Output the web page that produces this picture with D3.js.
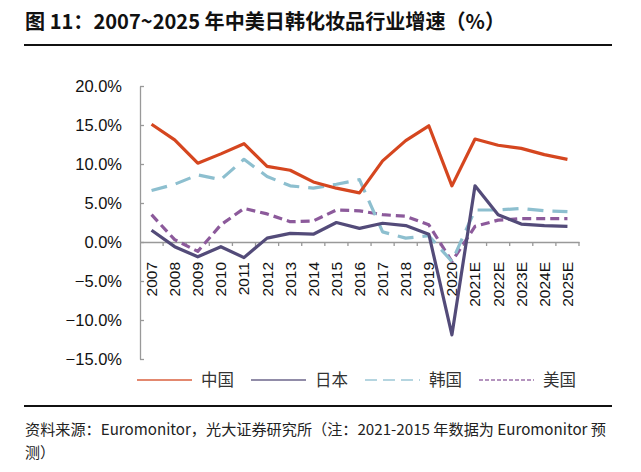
<!DOCTYPE html>
<html><head><meta charset="utf-8">
<script src="https://cdn.jsdelivr.net/npm/d3@7"></script>
<style>
body{margin:0;background:#fff;}
svg{display:block;}
</style></head>
<body>
<script>
const categories = ["2007","2008","2009","2010","2011","2012","2013","2014","2015","2016","2017","2018","2019","2020","2021E","2022E","2023E","2024E","2025E"];
const china = [15.1,13.1,10.1,11.3,12.6,9.7,9.2,7.7,6.9,6.3,10.4,13.0,14.9,7.2,13.2,12.4,12.0,11.2,10.6];
const japan = [1.5,-0.6,-1.9,-0.6,-2.0,0.5,1.1,1.0,2.5,1.75,2.4,2.1,1.0,-11.9,7.2,3.5,2.3,2.1,2.0];
const korea = [6.6,7.4,8.6,8.0,10.6,8.4,7.2,6.9,7.4,8.0,1.3,0.5,0.8,-2.5,4.1,4.1,4.3,4.0,3.9];
const usa = [3.5,0.3,-1.2,2.2,4.3,3.6,2.6,2.7,4.1,4.0,3.5,3.3,2.2,-2.5,2.0,2.8,3.0,3.0,3.0];
const yTicks = [-15,-10,-5,0,5,10,15,20];
const seriesNames = ["中国","日本","韩国","美国"];
const titleText = "图 11：2007~2025 年中美日韩化妆品行业增速（%）";
const sourceLines = ["资料来源：Euromonitor，光大证券研究所（注：2021-2015 年数据为 Euromonitor 预","测）"];

const W = 641, H = 472;
const svg = d3.select("body").append("svg").attr("width", W).attr("height", H);

const cjk = "'Noto Sans CJK SC','Noto Sans',sans-serif";
const latin = "'Liberation Sans',Arial,sans-serif";

// title
svg.append("text").attr("x", 25).attr("y", 29).text(titleText)
  .attr("font-family", cjk).attr("font-size", 20.5).attr("font-weight", "bold").attr("fill", "#111")
  .attr("textLength", 480).attr("lengthAdjust", "spacingAndGlyphs");
svg.append("line").attr("x1", 24).attr("x2", 612).attr("y1", 45).attr("y2", 45)
  .attr("stroke", "#111").attr("stroke-width", 2);

const x = d3.scaleBand().domain(categories).range([140, 579]);
const y = d3.scaleLinear().domain([-15, 20]).range([359, 86]);

// y axis
const yAxis = d3.axisLeft(y).tickValues(yTicks).tickSizeInner(-4).tickSizeOuter(0)
  .tickFormat(d => d3.format(".1f")(d) + "%").tickPadding(18);
const gy = svg.append("g").attr("transform", "translate(140,0)").call(yAxis);
gy.select(".domain").attr("stroke", "#999").attr("stroke-width", 1.3);
gy.selectAll(".tick line").attr("stroke", "#999").attr("stroke-width", 1.3);
gy.selectAll("text").attr("font-family", latin).attr("font-size", 16.5).attr("fill", "#111");

// x axis at 0
const xAxis = d3.axisBottom(x).tickSize(0).tickFormat("");
const gx = svg.append("g").attr("transform", `translate(0,${y(0)})`).call(xAxis);
gx.select(".domain").attr("stroke", "#999").attr("stroke-width", 1.3);
const bounds = categories.map(c => x(c)).concat([x.range()[1]]);
gx.selectAll(".btick").data(bounds.slice(1)).enter().append("line")
  .attr("x1", d => d).attr("x2", d => d).attr("y1", 0).attr("y2", 4)
  .attr("stroke", "#999").attr("stroke-width", 1.3);

// x labels
svg.append("g").selectAll("text").data(categories).enter().append("text")
  .attr("transform", d => `translate(${x(d) + x.bandwidth() / 2},262) rotate(-90)`)
  .attr("text-anchor", "end").attr("dy", "0.35em")
  .attr("font-family", latin).attr("font-size", 15.5).attr("fill", "#111")
  .text(d => d);

const series = [
  {name: seriesNames[0], values: china, color: "#d5461f", dash: null, width: 3.2},
  {name: seriesNames[1], values: japan, color: "#534b79", dash: null, width: 3.2},
  {name: seriesNames[2], values: korea, color: "#8dbfcf", dash: "16,9", width: 3.2},
  {name: seriesNames[3], values: usa, color: "#8c5a9b", dash: "9,5", width: 3.2}
];

const line = d3.line().x((d, i) => x(categories[i]) + x.bandwidth() / 2).y(d => y(d));

[3, 2, 1, 0].forEach(k => {
  const s = series[k];
  svg.append("path").datum(s.values).attr("d", line)
    .attr("fill", "none").attr("stroke", s.color).attr("stroke-width", s.width)
    .attr("stroke-linejoin", "round")
    .attr("stroke-dasharray", s.dash);
});

// legend
const legX = [137, 251, 365, 479];
const legDash = [null, null, "12,6", "4,2"];
series.forEach((s, i) => {
  const g = svg.append("g").attr("transform", `translate(${legX[i]},380)`);
  g.append("line").attr("x1", 0).attr("x2", 55).attr("y1", 0).attr("y2", 0)
    .attr("stroke", s.color).attr("stroke-width", 1.6).attr("stroke-dasharray", legDash[i]).attr("opacity", 0.85);
  g.append("text").attr("x", 64).attr("y", 0).attr("dy", "0.36em")
    .attr("font-family", cjk).attr("font-size", 16.5).attr("fill", "#333").text(s.name);
});

// bottom rule and source
svg.append("line").attr("x1", 24).attr("x2", 612).attr("y1", 406).attr("y2", 406)
  .attr("stroke", "#111").attr("stroke-width", 2);
sourceLines.forEach((t, i) => {
  const tx = svg.append("text").attr("x", 25).attr("y", 435 + i * 23).text(t)
    .attr("font-family", cjk).attr("font-size", 15).attr("fill", "#222");
  if (i === 0) tx.attr("textLength", 581).attr("lengthAdjust", "spacingAndGlyphs");
});
</script>
</body></html>
